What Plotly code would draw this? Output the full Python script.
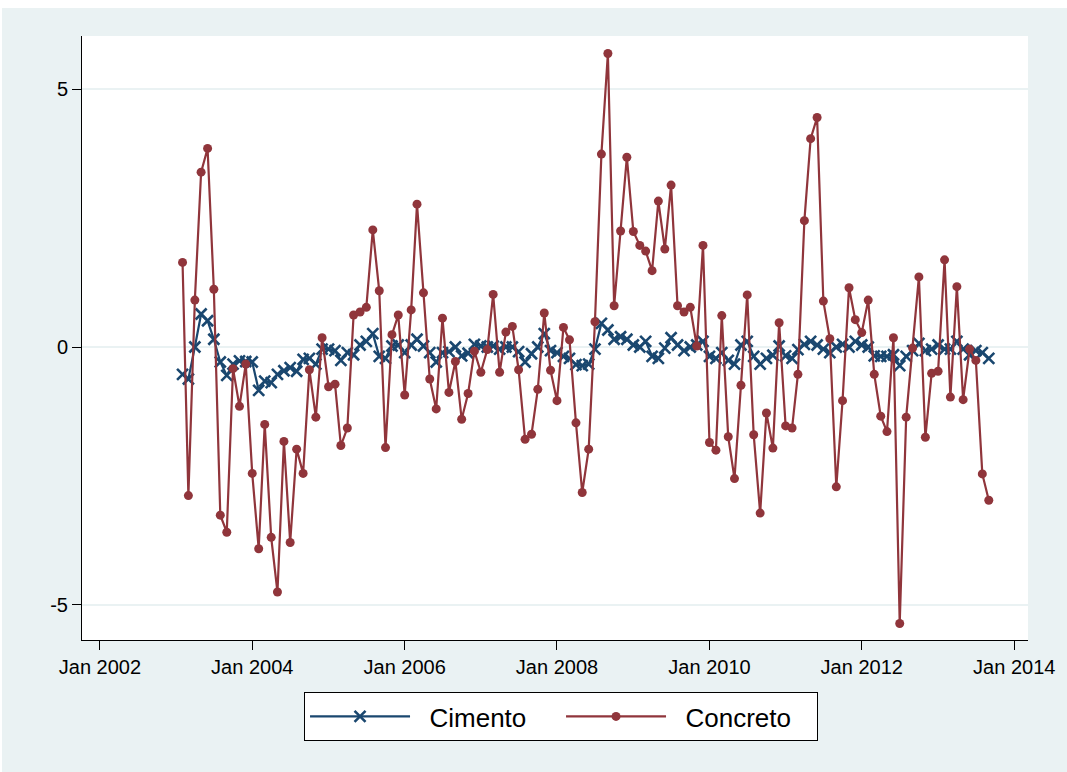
import plotly.graph_objects as go
import pandas as pd

# Monthly observations, Feb 2003 .. Sep 2013
months = pd.date_range("2003-02-01", "2013-09-01", freq="MS")

cimento = [
    -0.53, -0.62, 0.00, 0.64, 0.51, 0.15, -0.29, -0.55, -0.33, -0.27, -0.28,   # 2003
    -0.29, -0.84, -0.66, -0.69, -0.53, -0.46, -0.40, -0.47, -0.24, -0.22, -0.33, -0.04,  # 2004
    -0.04, -0.07, -0.26, -0.11, -0.15, 0.04, 0.11, 0.26, -0.18, -0.22, 0.02, 0.04,  # 2005
    -0.11, 0.04, 0.15, 0.02, -0.11, -0.29, -0.11, -0.09, 0.00, -0.17, -0.12, 0.05,  # 2006
    0.02, 0.00, 0.02, -0.04, 0.00, 0.00, -0.09, -0.29, -0.13, 0.00, 0.26, -0.07,  # 2007
    -0.11, -0.18, -0.22, -0.34, -0.36, -0.33, -0.04, 0.46, 0.33, 0.15, 0.20, 0.15,  # 2008
    0.04, 0.00, 0.11, -0.18, -0.22, -0.02, 0.18, 0.04, -0.07, 0.00, 0.04, 0.11,  # 2009
    -0.18, -0.22, -0.11, -0.26, -0.33, 0.04, 0.11, -0.18, -0.33, -0.22, -0.16, 0.02,  # 2010
    -0.17, -0.22, -0.05, 0.05, 0.11, 0.04, -0.04, -0.11, 0.00, 0.05, 0.00, 0.11,  # 2011
    0.04, 0.00, -0.17, -0.18, -0.18, -0.15, -0.36, -0.18, -0.07, 0.07, -0.07, -0.04,  # 2012
    0.04, -0.04, -0.04, 0.11, -0.04, -0.15, -0.07, -0.11, -0.22,  # 2013
]

concreto = [
    1.64, -2.88, 0.91, 3.39, 3.85, 1.12, -3.26, -3.59, -0.42, -1.15, -0.33,  # 2003
    -2.45, -3.91, -1.50, -3.69, -4.75, -1.83, -3.79, -1.98, -2.45, -0.44, -1.36, 0.18,  # 2004
    -0.77, -0.72, -1.91, -1.57, 0.62, 0.68, 0.77, 2.27, 1.09, -1.95, 0.24, 0.62,  # 2005
    -0.93, 0.72, 2.77, 1.05, -0.62, -1.20, 0.56, -0.88, -0.28, -1.40, -0.90, -0.08,  # 2006
    -0.49, -0.05, 1.02, -0.49, 0.29, 0.40, -0.44, -1.79, -1.69, -0.82, 0.66, -0.45,  # 2007
    -1.04, 0.38, 0.14, -1.47, -2.82, -1.98, 0.49, 3.74, 5.69, 0.80, 2.25, 3.68,  # 2008
    2.24, 1.97, 1.86, 1.48, 2.83, 1.90, 3.14, 0.80, 0.68, 0.77, 0.02, 1.97,  # 2009
    -1.85, -2.00, 0.61, -1.74, -2.55, -0.74, 1.01, -1.70, -3.22, -1.28, -1.96, 0.47,  # 2010
    -1.53, -1.57, -0.53, 2.45, 4.04, 4.45, 0.89, 0.16, -2.71, -1.04, 1.15, 0.53,  # 2011
    0.28, 0.91, -0.53, -1.34, -1.64, 0.18, -5.36, -1.36, -0.02, 1.36, -1.75, -0.51,  # 2012
    -0.47, 1.69, -0.97, 1.17, -1.02, -0.04, -0.26, -2.46, -2.97,  # 2013
]

x_tick_dates = ["2002-01-01", "2004-01-01", "2006-01-01", "2008-01-01",
                "2010-01-01", "2012-01-01", "2014-01-01"]
x_tick_labels = ["Jan 2002", "Jan 2004", "Jan 2006", "Jan 2008",
                 "Jan 2010", "Jan 2012", "Jan 2014"]
y_ticks = [-5, 0, 5]
y_tick_labels = ["-5", "0", "5"]

NAVY = "#1A476F"
MAROON = "#90353B"
BG = "#EAF2F3"
FONT = "Arial, Liberation Sans, sans-serif"
NB = "\u00a0\u00a0"

fig = go.Figure()
fig.add_trace(go.Scatter(
    x=months, y=cimento, name=NB + "Cimento", mode="lines+markers",
    line=dict(color=NAVY, width=2.2),
    marker=dict(symbol="x-thin", size=11, color=NAVY,
                line=dict(color=NAVY, width=2.6)),
))
fig.add_trace(go.Scatter(
    x=months, y=concreto, name=NB + "Concreto", mode="lines+markers",
    line=dict(color=MAROON, width=2.2),
    marker=dict(symbol="circle", size=9, color=MAROON),
))

fig.update_layout(
    width=1065, height=764,
    margin=dict(l=80, r=35, t=28, b=132),
    paper_bgcolor=BG, plot_bgcolor="white",
    font=dict(family=FONT, color="black", size=20),
    showlegend=True,
    legend=dict(
        orientation="h", xref="container", yref="container",
        x=0.2836, y=0.1047, xanchor="left", yanchor="top",
        bgcolor="white", bordercolor="black", borderwidth=1,
        font=dict(size=26, family=FONT),
        itemwidth=100, entrywidth=141, entrywidthmode="pixels",
    ),
    xaxis=dict(
        type="date", range=["2001-10-07", "2014-03-08"],
        tickvals=x_tick_dates, ticktext=x_tick_labels,
        ticks="outside", ticklen=9, tickcolor="black", tickwidth=1,
        showline=True, linecolor="black", linewidth=1,
        showgrid=False, zeroline=False,
        tickfont=dict(size=20),
    ),
    yaxis=dict(
        range=[-5.68, 6.03], tickvals=y_ticks, ticktext=y_tick_labels,
        ticks="outside", ticklen=9, tickcolor="black", tickwidth=1,
        showline=True, linecolor="black", linewidth=1,
        showgrid=True, gridcolor=BG, gridwidth=1.5,
        zeroline=False, tickfont=dict(size=20),
    ),
)

fig.write_html("out.html", post_script="document.body.style.margin='8px 0 0 2px';")
